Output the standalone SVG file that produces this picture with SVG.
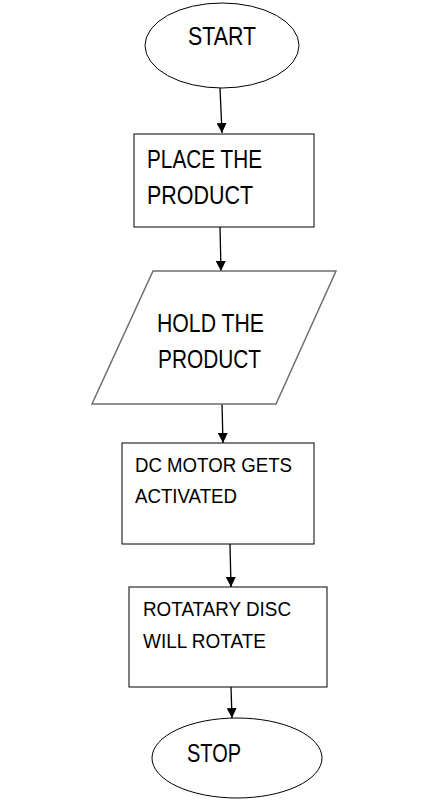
<svg xmlns="http://www.w3.org/2000/svg" width="447" height="802" viewBox="0 0 447 802">
<style>
.shape{fill:#fff;stroke:#000;stroke-width:1}
.para{fill:#fff;stroke:#6e6e6e;stroke-width:1.5}
.conn{stroke:#000;stroke-width:1.3;fill:none}
.lbl{font-family:"Liberation Sans",Arial,sans-serif;fill:#000}
.big{font-size:25px}
.small{font-size:21px}
</style>
<defs>
<marker id="arr" viewBox="0 0 10 10" refX="10" refY="5" markerWidth="10" markerHeight="10" markerUnits="userSpaceOnUse" orient="auto">
<path d="M0,0 L10,5 L0,10 z" fill="#000"/>
</marker>
</defs>
<rect width="447" height="802" fill="#fff"/>
<g id="connectors">
<line class="conn" x1="220" y1="88" x2="222" y2="133" marker-end="url(#arr)"/>
<line class="conn" x1="220" y1="227" x2="221" y2="271" marker-end="url(#arr)"/>
<line class="conn" x1="222" y1="404" x2="223" y2="443" marker-end="url(#arr)"/>
<line class="conn" x1="230" y1="544" x2="231" y2="587" marker-end="url(#arr)"/>
<line class="conn" x1="231" y1="687" x2="232" y2="718" marker-end="url(#arr)"/>
</g>
<g id="start">
<ellipse class="shape" cx="222" cy="45.5" rx="77" ry="42.5"/>
<text class="lbl big" x="188" y="45" textLength="68" lengthAdjust="spacingAndGlyphs">START</text>
</g>
<g id="place">
<rect class="shape" x="134" y="134" width="180" height="93"/>
<text class="lbl big" x="147" y="168" textLength="115" lengthAdjust="spacingAndGlyphs">PLACE THE</text>
<text class="lbl big" x="147" y="204" textLength="106" lengthAdjust="spacingAndGlyphs">PRODUCT</text>
</g>
<g id="hold">
<polygon class="para" points="153,271 336,271 276,404 92,404"/>
<text class="lbl big" x="157" y="332" textLength="107" lengthAdjust="spacingAndGlyphs">HOLD THE</text>
<text class="lbl big" x="158" y="368" textLength="103" lengthAdjust="spacingAndGlyphs">PRODUCT</text>
</g>
<g id="motor">
<rect class="shape" x="122" y="443" width="192" height="101"/>
<text class="lbl small" x="135" y="472" textLength="157" lengthAdjust="spacingAndGlyphs">DC MOTOR GETS</text>
<text class="lbl small" x="135" y="503" textLength="102" lengthAdjust="spacingAndGlyphs">ACTIVATED</text>
</g>
<g id="disc">
<rect class="shape" x="129" y="587" width="198" height="100"/>
<text class="lbl small" x="143" y="616" textLength="148" lengthAdjust="spacingAndGlyphs">ROTATARY DISC</text>
<text class="lbl small" x="143" y="648" textLength="123" lengthAdjust="spacingAndGlyphs">WILL ROTATE</text>
</g>
<g id="stop">
<ellipse class="shape" cx="237" cy="758" rx="85" ry="40"/>
<text class="lbl big" x="187" y="762" textLength="54" lengthAdjust="spacingAndGlyphs">STOP</text>
</g>
</svg>
